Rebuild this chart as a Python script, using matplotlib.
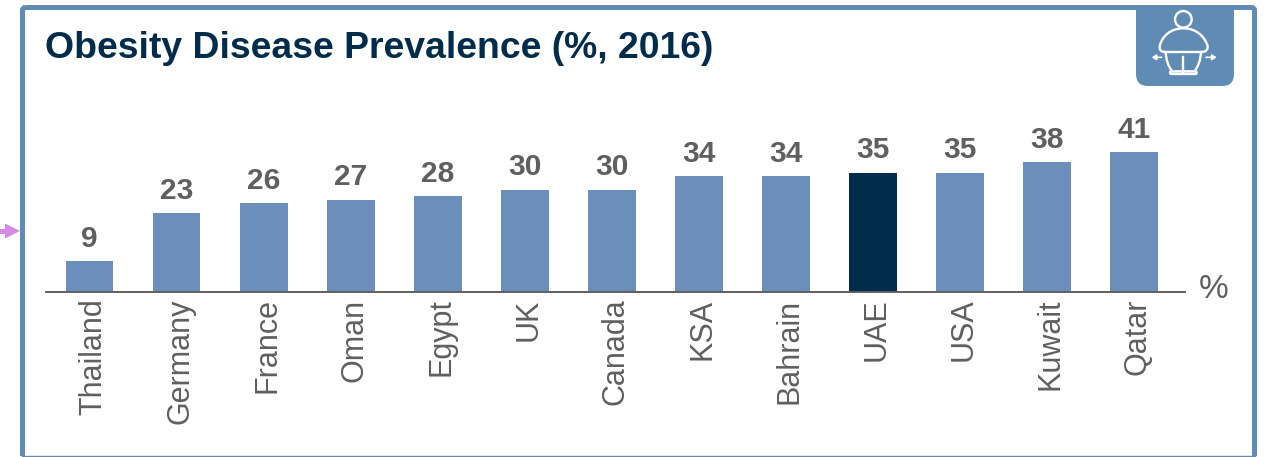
import matplotlib
matplotlib.use('Agg')
import matplotlib.pyplot as plt
from matplotlib.patches import Circle, FancyBboxPatch, PathPatch, Polygon, Rectangle
from matplotlib.path import Path
from matplotlib.transforms import Affine2D

countries = ['Thailand', 'Germany', 'France', 'Oman', 'Egypt', 'UK', 'Canada',
             'KSA', 'Bahrain', 'UAE', 'USA', 'Kuwait', 'Qatar']
values = [9, 23, 26, 27, 28, 30, 30, 34, 34, 35, 35, 38, 41]
highlight = 'UAE'

W, H = 1264, 457
FRAME = '#5F8BB5'
BAR = '#6C8EBA'
NAVY = '#022C4B'
GREY = '#5F5F5F'

plt.rcParams['font.family'] = ['Liberation Sans', 'DejaVu Sans']

fig = plt.figure(figsize=(W / 100, H / 100), dpi=100)

# page furniture, in pixels
bg = fig.add_axes([0, 0, 1, 1])
bg.set_xlim(0, W)
bg.set_ylim(H, 0)
bg.axis('off')

bg.add_patch(FancyBboxPatch((22.5, 7.5), 1232, 460, boxstyle='round,pad=0,rounding_size=3',
                            fill=False, ec=FRAME, lw=3.6))
bg.add_patch(Rectangle((0, 455.5), W, 2, fc='white', ec='none', zorder=3))
bg.plot([22, 1255], [456, 456], color=FRAME, lw=1, zorder=4)
bg.add_patch(Polygon([(0, 229), (5, 229), (5, 223.5), (20, 231), (5, 238.5), (5, 234), (0, 234)],
                     fc='#D68AE3', ec='none'))

# icon tab, its top hidden behind a white strip above the frame
bg.add_patch(FancyBboxPatch((1136, -20), 98, 106, boxstyle='round,pad=0,rounding_size=12',
                            fc=FRAME, ec='none', zorder=5))
bg.add_patch(Rectangle((1130, -1), 110, 6, fc='white', ec='none', zorder=5.5))


def z(x, y):
    return 1100 + x / 3, y / 3


ICON = dict(fill=False, ec='white', lw=1.7, zorder=6)
bg.add_patch(Circle(z(250, 58), 8.3, **ICON))
body = [(197, 155), (185, 158), (176, 150), (180, 135), (187, 110), (210, 85), (250, 85),
        (290, 85), (313, 110), (322, 135), (326, 150), (315, 158), (303, 155)]
bg.add_patch(PathPatch(Path([z(*p) for p in body], [Path.MOVETO] + [Path.CURVE4] * 12), **ICON))
bg.plot(*zip(z(197, 155), z(303, 155)), color='white', lw=1.7, zorder=6)
for leg in [[(197, 155), (198, 180), (205, 198), (215, 212)],
            [(303, 155), (302, 180), (295, 198), (285, 212)]]:
    bg.add_patch(PathPatch(Path([z(*p) for p in leg], [Path.MOVETO] + [Path.CURVE4] * 3), **ICON))
bg.add_patch(FancyBboxPatch(z(210, 214), 80 / 3, 8 / 3, boxstyle='round,pad=0,rounding_size=1.3', **ICON))
bg.plot(*zip(z(250, 170), z(250, 215)), color='white', lw=1.7, zorder=6)
for x0, x1 in [(185, 155), (318, 350)]:
    bg.annotate('', xy=z(x1, 172), xytext=z(x0, 172), zorder=6,
                arrowprops=dict(arrowstyle='-|>,head_width=0.16,head_length=0.25',
                                color='white', lw=1.2, shrinkA=0, shrinkB=0))

bg.text(45, 48, 'Obesity Disease Prevalence (%, 2016)', fontsize=26.9, fontweight='bold',
        color=NAVY, va='center', ha='left')
bg.text(1214, 289, '%', fontsize=24, color=GREY, ha='center', va='center')

# chart
ax = fig.add_axes([46 / W, 1 - 291.5 / H, (1185 - 46) / W, 191.5 / H])
ax.patch.set_alpha(0)
xs = range(len(countries))
colors = [NAVY if c == highlight else BAR for c in countries]
bars = ax.bar(xs, values, width=0.55, color=colors)
ax.bar_label(bars, padding=6, fontsize=21.5, fontweight='bold', color=GREY)
ax.set_xlim(-0.5, 12.586)
ax.set_ylim(0, 191.5 / 3.4)
ax.set_xticks(list(xs))
ax.set_xticklabels(countries, rotation=90, fontsize=22, color=GREY)
ax.tick_params(axis='x', length=0, pad=5)
ax.set_yticks([])
for s in ['top', 'left', 'right']:
    ax.spines[s].set_visible(False)
ax.spines['bottom'].set_color(GREY)
ax.spines['bottom'].set_linewidth(1.4)
# labels sit a little right of the bar centres
for lab in ax.get_xticklabels():
    lab.set_transform(lab.get_transform() + Affine2D().translate(3.5, 0))

fig.savefig('out.png', dpi=100)
